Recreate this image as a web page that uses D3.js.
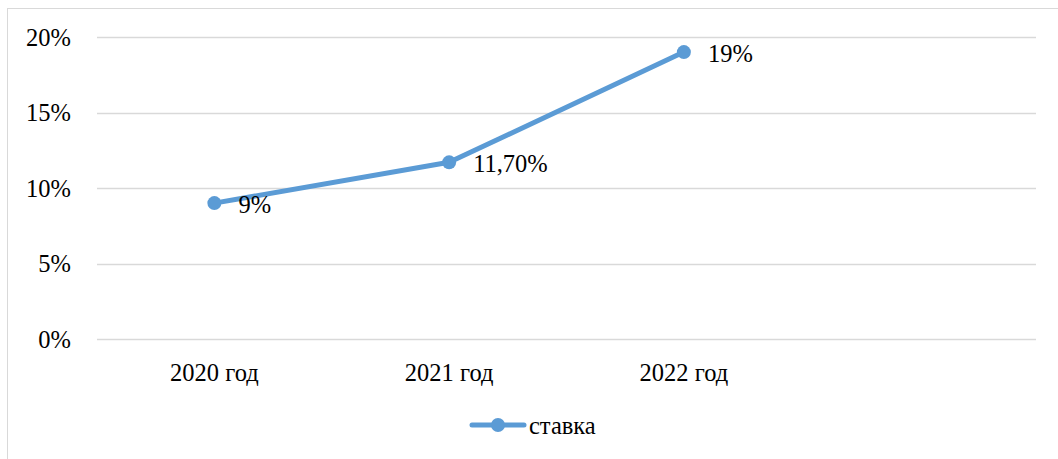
<!DOCTYPE html>
<html><head><meta charset="utf-8">
<script src="https://cdn.jsdelivr.net/npm/d3@7"></script>
<style>body{margin:0;background:#fff}svg{display:block}
svg text{font-family:"Liberation Serif","Times New Roman",serif;}</style>
</head><body>
<script>
const categories = ["2020 год", "2021 год", "2022 год", ""];
const values = [9, 11.7, 19];
const valueLabels = ["9%", "11,70%", "19%"];
const yTicks = [0, 5, 10, 15, 20];
const seriesName = "ставка";

const W = 1058, H = 459;
const color = "#5B9BD5";
const fs = 24.5;
const svg = d3.select("body").append("svg").attr("width", W).attr("height", H);

svg.append("rect").attr("x", 7.5).attr("y", 8.5).attr("width", 1060).attr("height", 470)
  .attr("fill", "#fff").attr("stroke", "#d9d9d9").attr("stroke-width", 1);

const x = d3.scaleBand().domain(categories).range([97, 1036]);
const y = d3.scaleLinear().domain([0, 20]).range([339, 37]);

svg.append("g").selectAll("line").data(yTicks).join("line")
  .attr("x1", 97).attr("x2", 1036)
  .attr("y1", d => Math.round(y(d)) + 0.5).attr("y2", d => Math.round(y(d)) + 0.5)
  .attr("stroke", "#d9d9d9").attr("stroke-width", 1.5);

svg.append("g").selectAll("text").data(yTicks).join("text")
  .attr("x", 71).attr("y", d => y(d) + 8.5)
  .attr("text-anchor", "end").attr("font-size", fs).attr("fill", "#000")
  .text(d => d + "%");

svg.append("g").selectAll("text").data(categories.filter(c => c)).join("text")
  .attr("x", d => x(d) + x.bandwidth() / 2).attr("y", 381)
  .attr("text-anchor", "middle").attr("font-size", fs).attr("fill", "#000")
  .text(d => d);

const pts = values.map((v, i) => ({c: categories[i], v, label: valueLabels[i]}));
const line = d3.line().x(d => x(d.c) + x.bandwidth() / 2).y(d => y(d.v));
svg.append("path").datum(pts).attr("d", line).attr("fill", "none")
  .attr("stroke", color).attr("stroke-width", 5).attr("stroke-linecap", "round").attr("stroke-linejoin", "round");
svg.append("g").selectAll("circle").data(pts).join("circle")
  .attr("cx", d => x(d.c) + x.bandwidth() / 2).attr("cy", d => y(d.v)).attr("r", 7).attr("fill", color);

svg.append("g").selectAll("text").data(pts).join("text")
  .attr("x", d => x(d.c) + x.bandwidth() / 2 + 24).attr("y", d => y(d.v) + 10)
  .attr("font-size", fs).attr("fill", "#000")
  .text(d => d.label);

const lg = svg.append("g");
lg.append("line").attr("x1", 472).attr("x2", 524).attr("y1", 425).attr("y2", 425)
  .attr("stroke", color).attr("stroke-width", 5).attr("stroke-linecap", "round");
lg.append("circle").attr("cx", 498).attr("cy", 425).attr("r", 7).attr("fill", color);
lg.append("text").attr("x", 529).attr("y", 434)
  .attr("font-size", fs).attr("fill", "#000").text(seriesName);
</script>
</body></html>
